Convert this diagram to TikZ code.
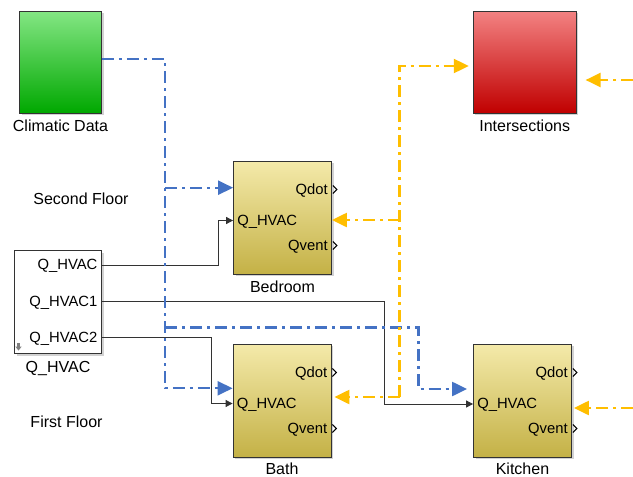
\documentclass[tikz,border=0pt]{standalone}
\usepackage{fontspec}
\setmainfont{Liberation Sans}
\usetikzlibrary{calc, arrows.meta, shadows}

\definecolor{roomtop}{RGB}{244,234,170}
\definecolor{roombot}{RGB}{196,177,70}
\definecolor{climtop}{RGB}{132,230,132}
\definecolor{climbot}{RGB}{0,168,0}
\definecolor{intertop}{RGB}{243,130,130}
\definecolor{interbot}{RGB}{192,0,0}
\definecolor{sigblue}{RGB}{68,114,196}
\definecolor{sigyel}{RGB}{255,190,0}

\newcommand\lblfont{\fontsize{16}{19}\selectfont}
\newcommand\portfont{\fontsize{14.8}{17}\selectfont}

\begin{document}
\begin{tikzpicture}[x=1pt, y=-1pt,
		blk/.style={draw=black!80, line width=0.8pt, inner sep=0pt,
			drop shadow={shadow xshift=2.2pt, shadow yshift=-2.2pt, opacity=0.35}},
		room/.style={blk, minimum width=98pt, minimum height=113pt, top color=roomtop, bottom color=roombot},
		lbl/.style={font=\lblfont, inner sep=0pt, text height=11.5pt, text depth=0pt},
		port/.style={font=\portfont, inner sep=0pt, text height=10.6pt, text depth=0pt},
		bsig/.style={draw=sigblue, line width=2.2pt, dash pattern=on 12pt off 5pt on 3pt off 5pt,
			-{Triangle[length=15pt, width=14pt]}},
		ysig/.style={bsig, draw=sigyel, -{Triangle[length=15pt, width=14pt]}},
		wire/.style={draw=black!80, line width=0.8pt, -{Triangle[length=7pt, width=7pt]}},
		chev/.style={draw=black, line width=1.1pt},
		label distance=6.8pt]
		
		\fill[white] (0,0) rectangle (633,477);
		\useasboundingbox (0,0) rectangle (633,477);
		
		% blocks
		\node[blk, minimum width=82pt, minimum height=102pt, top color=climtop, bottom color=climbot,
			label={[lbl]below:Climatic Data}] (clim) at (60.5,62) {};
		\node[blk, minimum width=103pt, minimum height=102pt, top color=intertop, bottom color=interbot,
			label={[lbl]below:Intersections}] (inter) at (524.7,62) {};
		\node[room, label={[lbl]below:Bedroom}] (bed) at (282.5,217.5) {};
		\node[room, label={[lbl, label distance=5.2pt]below:Bath}] (bath) at (282,400.5) {};
		\node[room, label={[lbl, label distance=5.2pt]below:Kitchen}] (kit) at (522.5,400.5) {};
		\node[blk, fill=white, minimum width=87.4pt, minimum height=102.6pt,
			label={[lbl]below:Q\_HVAC}] (qh) at (58,302) {};
		
		\node[lbl] (second) at (81,199) {Second Floor};
		\node[lbl] (first) at (66.5,422) {First Floor};
		
		% ports of the rooms
		\foreach \b in {bed,bath,kit}{
			\node[port, anchor=east] (\b-qdot) at ($(\b.east)+(-4,-28)$) {Qdot};
			\node[port, anchor=west] (\b-in) at ($(\b.west)+(4,3)$) {Q\_HVAC};
			\node[port, anchor=east] (\b-qvent) at ($(\b.east)+(-4,28)$) {Qvent};
			\draw[chev] ($(\b.east)+(1,-32)$) -- ++(4,4) -- ++(-4,4);
			\draw[chev] ($(\b.east)+(1,24)$) -- ++(4,4) -- ++(-4,4);
		}
		
		% outputs of the Q_HVAC block
		\node[port, anchor=east] (qh-l1) at ($(qh.east)+(-4.5,-37.5)$) {Q\_HVAC};
		\node[port, anchor=east] (qh-l2) at ($(qh.east)+(-4.5,-1)$) {Q\_HVAC1};
		\node[port, anchor=east] (qh-l3) at ($(qh.east)+(-4.5,34.7)$) {Q\_HVAC2};
		\fill[black!50] (17,343) rectangle (20,346.5);
		\fill[black!50] (15.3,346.5) -- (21.7,346.5) -- (18.5,350.5) -- cycle;
		
		\coordinate (qh1) at ($(qh.east)+(0,-36.5)$);
		\coordinate (qh2) at ($(qh.east)+(0,-1)$);
		\coordinate (qh3) at ($(qh.east)+(0,35.5)$);
		\coordinate (w1) at (218,220.5);
		\coordinate (w2) at (384.5,404);
		\coordinate (w3) at (211.5,403.5);
		
		\draw[wire] (qh1) -| (w1) -- (bed.west |- w1);
		\draw[wire] (qh2) -| (w2) -- (kit.west |- w2);
		\draw[wire] (qh3) -| (w3) -- (bath.west |- w3);
		
		% weather bus
		\coordinate (b0) at (165,59.3);
		\coordinate (b1) at (165,187.7);
		\coordinate (b2) at (165,327.5);
		\coordinate (b3) at (165,388.3);
		\coordinate (b4) at (418.5,389);
		
		\draw[bsig] (clim.east |- b0) -| (b3) -- (bath.west |- b3);
		\draw[bsig] (b1) -- (bed.west |- b1);
		\draw[bsig, shorten >=6pt] (b2) -| (b4) -- (kit.west |- b4);
		
		% intersections bus
		\coordinate (y0) at (399.5,66);
		\coordinate (y1) at (399.5,220);
		\coordinate (y3) at (399.5,397);
		\coordinate (yr1) at (633,80);
		\coordinate (yr2) at (633,408);
		
		\draw[ysig, shorten >=4pt] (y3) -- (y0) -- (inter.west |- y0);
		\draw[ysig] (y1) -- (bed.east |- y1);
		\draw[ysig, shorten >=3pt] (y3) -- (bath.east |- y3);
		\draw[ysig, shorten >=9pt] (yr1) -- (inter.east |- yr1);
		\draw[ysig, shorten >=2pt] (yr2) -- (kit.east |- yr2);
		
	\end{tikzpicture}
\end{document}
